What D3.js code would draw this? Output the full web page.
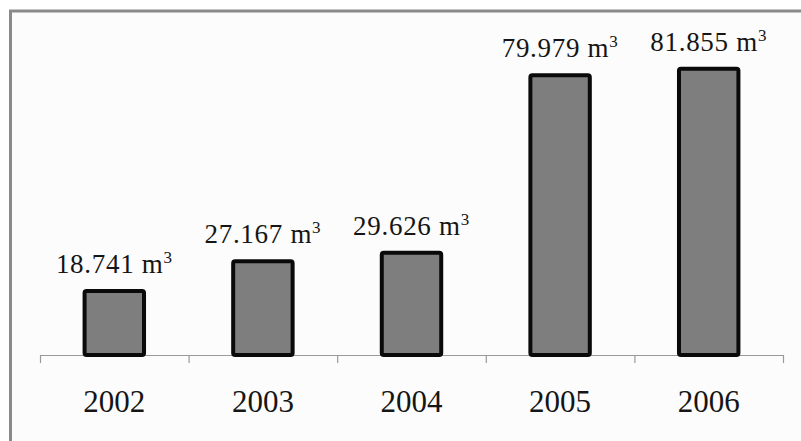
<!DOCTYPE html>
<html>
<head>
<meta charset="utf-8">
<script src="https://cdn.jsdelivr.net/npm/d3@7"></script>
<style>
  html, body { margin: 0; padding: 0; background: #ffffff; }
  svg { display: block; }
</style>
</head>
<body>
<svg id="chart" width="801" height="441"></svg>
<script>
const years = ["2002", "2003", "2004", "2005", "2006"];
const volumes = [18.741, 27.167, 29.626, 79.979, 81.855];
const valueLabels = ["18.741", "27.167", "29.626", "79.979", "81.855"];
const unitLabel = "m";
const unitSup = "3";

const W = 801, H = 441;
const FONT = "'Liberation Serif', 'Times New Roman', Times, serif";
const svg = d3.select("#chart");

// frame
svg.append("rect")
  .attr("x", 10.5).attr("y", 11)
  .attr("width", W + 20).attr("height", H + 20)
  .attr("fill", "#fcfcfc")
  .attr("stroke", "#8a8a8a")
  .attr("stroke-width", 3);

const x = d3.scaleBand().domain(years).range([40, 783]).paddingInner(0).paddingOuter(0);
const y = d3.scaleLinear().domain([0, 90]).range([355, 38]);

const barW = x.bandwidth() * 0.40;

// axis line
const axisG = svg.append("g");
axisG.append("line")
  .attr("x1", x.range()[0]).attr("x2", x.range()[1])
  .attr("y1", y(0) + 0.5).attr("y2", y(0) + 0.5)
  .attr("stroke", "#9a9a9a").attr("stroke-width", 1.2);
const edges = years.map(d => x(d)).concat([x.range()[1]]);
axisG.selectAll("line.tick").data(edges).join("line")
  .attr("class", "tick")
  .attr("x1", d => d + 0.5).attr("x2", d => d + 0.5)
  .attr("y1", y(0)).attr("y2", y(0) + 8)
  .attr("stroke", "#9a9a9a").attr("stroke-width", 1.2);

// bars
const data = years.map((yr, i) => ({ yr, v: volumes[i], lab: valueLabels[i] }));
svg.append("g").selectAll("rect").data(data).join("rect")
  .attr("x", d => x(d.yr) + (x.bandwidth() - barW) / 2)
  .attr("y", d => y(d.v) + 2)
  .attr("width", barW)
  .attr("height", d => y(0) - y(d.v) - 2)
  .attr("rx", 2).attr("ry", 2)
  .attr("fill", "#7e7e7e")
  .attr("stroke", "#0a0a0a")
  .attr("stroke-width", 4);

// value labels
const vl = svg.append("g").selectAll("text").data(data).join("text")
  .attr("x", d => x(d.yr) + x.bandwidth() / 2)
  .attr("y", d => y(d.v) - 16)
  .attr("text-anchor", "middle")
  .attr("font-family", FONT)
  .attr("fill", "#151515")
  .attr("font-size", 27)
  .attr("letter-spacing", 0.7);
vl.append("tspan").text(d => d.lab + " " + unitLabel);
vl.append("tspan").attr("font-size", 17).attr("dy", -10).text(unitSup);

// year labels
svg.append("g").selectAll("text").data(years).join("text")
  .attr("x", d => x(d) + x.bandwidth() / 2)
  .attr("y", 412)
  .attr("text-anchor", "middle")
  .attr("font-family", FONT)
  .attr("fill", "#151515")
  .attr("font-size", 31)
  .text(d => d);
</script>
</body>
</html>
